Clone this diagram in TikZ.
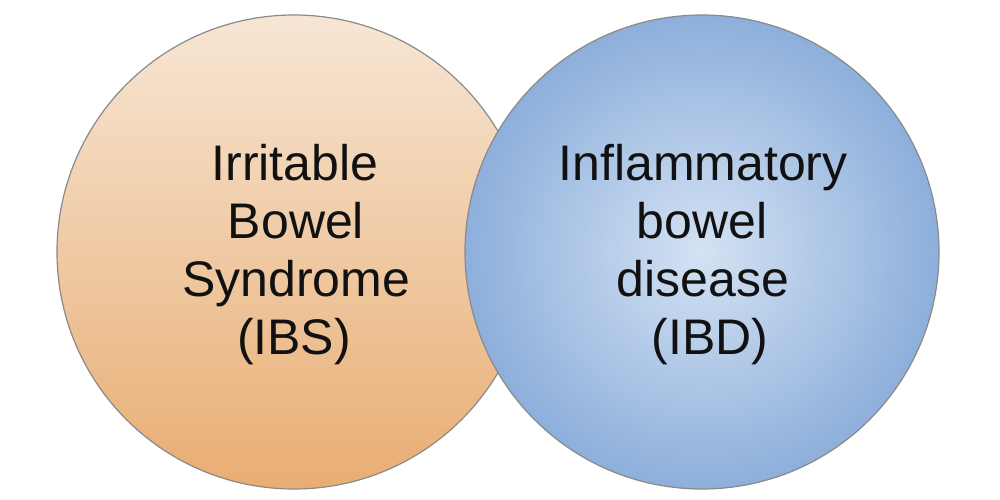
\documentclass[tikz,border=0pt]{standalone}
\usepackage{fontspec}
\setmainfont{Liberation Sans}
\definecolor{ibstop}{HTML}{F7E6D5}
\definecolor{ibsbot}{HTML}{E8AD72}
\definecolor{ibdin}{HTML}{D4E2F3}
\definecolor{ibdout}{HTML}{8DAFDB}
\definecolor{rim}{HTML}{8A8A8A}
\definecolor{ink}{HTML}{111111}
\tikzset{
  bubble/.style={circle, draw=rim, line width=1.2pt, minimum size=474pt, inner sep=0pt},
  word/.style={anchor=base, text=ink, inner sep=0pt, font=\fontsize{50}{58}\selectfont}
}
\begin{document}
\begin{tikzpicture}[x=1pt,y=-1pt]
\useasboundingbox (0,0) rectangle (1000,500);
\fill[white] (0,0) rectangle (1000,500);
\node[bubble, top color=ibstop, bottom color=ibsbot] (ibs) at (294,252) {};
\node[bubble, inner color=ibdin, outer color=ibdout] (ibd) at (702,252) {};
\node[word] (l1) at (295,180) {Irritable};
\node[word] (l2) at (296,238) {Bowel};
\node[word] (l3) at (296,296) {Syndrome};
\node[word] (l4) at (294,354) {(IBS)};
\node[word] (r1) at (703,180) {Inflammatory};
\node[word] (r2) at (702,238) {bowel};
\node[word] (r3) at (703,296) {disease};
\node[word] (r4) at (710,354) {(IBD)};
\end{tikzpicture}
\end{document}
